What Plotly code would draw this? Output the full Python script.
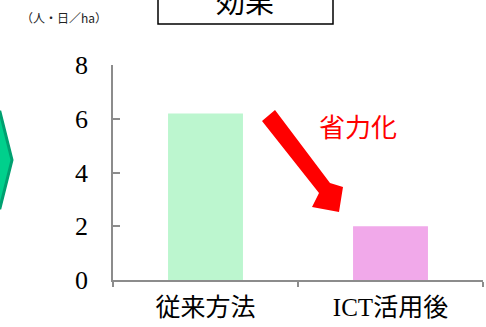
import plotly.graph_objects as go

categories = ["従来方法", "ICT活用後"]
values = [6.2, 2.0]
bar_colors = ["#BCF6CF", "#F1A9EA"]
y_ticks = [0, 2, 4, 6, 8]
unit_label = "（人・日／ha）"
title_text = "効果"
note_text = "省力化"

W, H = 486, 327
L, R, T, B = 113, 3, 65, 47
PW, PH = W - L - R, H - T - B

def px(x):
    return (x - L) / PW

def py(y):
    return (H - B - y) / PH

fig = go.Figure()
fig.add_trace(go.Bar(
    x=categories, y=values, marker=dict(color=bar_colors, line=dict(width=0)),
    width=0.405, hoverinfo="skip",
))

fig.update_layout(
    width=W, height=H,
    margin=dict(l=L, r=R, t=T, b=B),
    paper_bgcolor="white", plot_bgcolor="white",
    showlegend=False,
    xaxis=dict(
        range=[-0.5, 1.5], showgrid=False, zeroline=False,
        showline=True, linecolor="#8C8C8C", linewidth=1.5,
        ticks="outside", tickson="boundaries", ticklen=5, tickcolor="#8C8C8C", tickwidth=1.5,
        tickfont=dict(family="Liberation Serif, Noto Sans CJK JP", size=25, color="#000000"),
        ticklabelstandoff=4,
    ),
    yaxis=dict(
        range=[0, 8], tickvals=y_ticks, showgrid=False, zeroline=False,
        showline=True, linecolor="#8C8C8C", linewidth=1.5,
        ticks="inside", ticklen=7, tickcolor="#8C8C8C", tickwidth=1.5,
        tickfont=dict(family="Liberation Serif", size=26, color="#000000"),
        ticklabelstandoff=18,
    ),
)

# red arrow (decoration)
arrow_pts = [(262, 121), (275, 110), (330, 183), (343, 187), (339, 212), (312, 207), (319, 193)]
path = "M " + " L ".join(f"{px(x)},{py(y)}" for x, y in arrow_pts) + " Z"
fig.add_shape(type="path", xref="paper", yref="paper", path=path,
              fillcolor="#FF0000", line=dict(width=0))

# green chevron at left edge
chev = [(-10, 112), (0, 112), (12, 160), (0, 208), (-10, 208)]
cpath = "M " + " L ".join(f"{px(x)},{py(y)}" for x, y in chev) + " Z"
fig.add_shape(type="path", xref="paper", yref="paper", path=cpath,
              fillcolor="#00D08C", line=dict(color="#00A070", width=3))

# title box
fig.add_shape(type="rect", xref="paper", yref="paper",
              x0=px(158), x1=px(333), y0=py(24), y1=py(-10),
              line=dict(color="#000000", width=1.5), fillcolor="white")
fig.add_annotation(text=title_text, xref="paper", yref="paper", x=px(245), y=py(23),
                   showarrow=False, font=dict(family="Noto Sans CJK JP", size=29, color="#000000"),
                   xanchor="center", yanchor="bottom")

fig.add_annotation(text=unit_label, xref="paper", yref="paper", x=px(19), y=py(17),
                   showarrow=False, font=dict(family="Noto Sans CJK JP", size=12, color="#222222"),
                   xanchor="left", yanchor="middle")

fig.add_annotation(text=note_text, xref="paper", yref="paper", x=px(358), y=py(125),
                   showarrow=False, font=dict(family="Noto Sans CJK JP", size=26, color="#FF0000"),
                   xanchor="center", yanchor="middle")

fig.write_html("out.html")
